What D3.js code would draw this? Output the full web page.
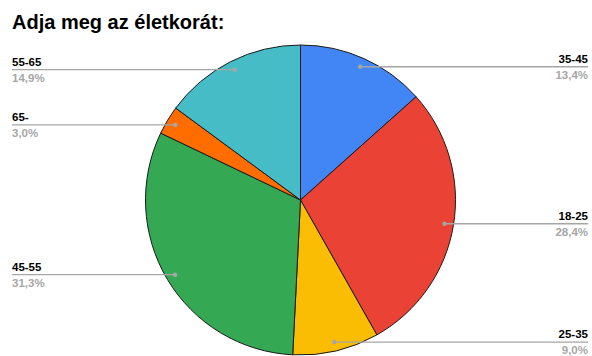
<!DOCTYPE html>
<html>
<head>
<meta charset="utf-8">
<script src="https://cdn.jsdelivr.net/npm/d3@7"></script>
<style>
  html, body { margin: 0; padding: 0; background: #fff; }
  svg { display: block; font-family: "Liberation Sans", Arial, sans-serif; }
</style>
</head>
<body>
<svg id="chart" width="592" height="356"></svg>
<script>
// Age groups in drawing order (clockwise from 12 o'clock)
const categories = ["35-45", "18-25", "25-35", "45-55", "65-", "55-65"];
const shares = [13.4, 28.4, 9.0, 31.3, 3.0, 14.9];
const colors = ["#4285F4", "#EA4335", "#FBBC04", "#34A853", "#FF6D01", "#46BDC6"];
const title = "Adja meg az életkorát:";

const W = 592, H = 356;
const cx = 300.5, cy = 200, r = 155;

const svg = d3.select("#chart");

svg.append("text")
  .attr("x", 12).attr("y", 29)
  .attr("font-size", 20).attr("font-weight", "bold")
  .attr("fill", "#000")
  .text(title);

const data = categories.map((c, i) => ({ cat: c, value: shares[i], color: colors[i] }));

const pie = d3.pie().value(d => d.value).sort(null);
const arcs = pie(data);
const arc = d3.arc().innerRadius(0).outerRadius(r);
const dotArc = d3.arc().innerRadius(146).outerRadius(146);

const g = svg.append("g").attr("transform", `translate(${cx},${cy})`);

g.selectAll("path.slice").data(arcs).join("path")
  .attr("class", "slice")
  .attr("d", arc)
  .attr("fill", d => d.data.color)
  .attr("stroke", "#1a1a1a")
  .attr("stroke-width", 1)
  .attr("stroke-linejoin", "round");

// Leader lines and labels
const fmt = v => v.toFixed(1).replace(".", ",") + "%";
const leftX = 12, rightX = 588;

arcs.forEach(d => {
  const [px, py] = dotArc.centroid(d);
  const x = cx + px, y = cy + py;
  const mid = (d.startAngle + d.endAngle) / 2;
  const right = mid < Math.PI;
  const endX = right ? rightX : leftX;

  svg.append("line")
    .attr("x1", x).attr("y1", y).attr("x2", endX).attr("y2", y)
    .attr("stroke", "#a6a6a6").attr("stroke-width", 1.3);
  svg.append("circle")
    .attr("cx", x).attr("cy", y).attr("r", 2.2)
    .attr("fill", "#a6a6a6");

  const anchor = right ? "end" : "start";
  svg.append("text")
    .attr("x", endX).attr("y", y - 4)
    .attr("text-anchor", anchor)
    .attr("font-size", 11.5).attr("font-weight", "bold")
    .attr("fill", "#000")
    .text(d.data.cat);
  svg.append("text")
    .attr("x", endX).attr("y", y + 12)
    .attr("text-anchor", anchor)
    .attr("font-size", 11.5).attr("font-weight", "bold")
    .attr("fill", "#a6a6a6")
    .text(fmt(d.data.value));
});
</script>
</body>
</html>
